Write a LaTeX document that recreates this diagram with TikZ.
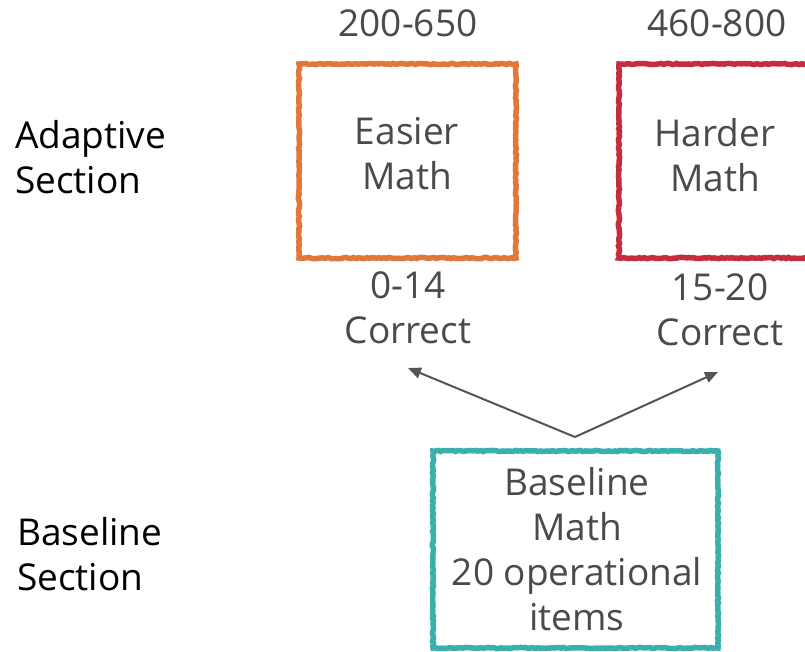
\documentclass[tikz,border=0pt]{standalone}
\usepackage{fontspec}
\setmainfont{Open Sans}
\usetikzlibrary{arrows.meta,decorations.pathmorphing}

\definecolor{easyorange}{HTML}{E2773A}
\definecolor{hardred}{HTML}{C42C3F}
\definecolor{baseteal}{HTML}{3AB0AC}
\definecolor{labelgrey}{HTML}{4A4A4A}
\definecolor{arrowgrey}{HTML}{555555}

\tikzset{
  sketchbox/.style={draw=#1, line width=5.5pt, inner sep=0pt, outer sep=0pt,
    decorate, decoration={random steps, segment length=2.5pt, amplitude=0.6pt}},
  bigtext/.style={font=\fontsize{37pt}{45pt}\selectfont, text=labelgrey,
    align=center, anchor=base, inner sep=0pt},
  sidetext/.style={font=\fontsize{37pt}{45pt}\selectfont, text=black,
    align=left, anchor=base west, inner sep=0pt},
  flow/.style={draw=arrowgrey, line width=2pt, -{Triangle[length=13pt,width=11pt]}},
}

\begin{document}
\begin{tikzpicture}[x=1pt,y=-1pt]
  \clip (0,0) rectangle (805,652);
  \fill[white] (0,0) rectangle (805,652);

  % section labels on the left (anchored at the baseline of the last line)
  \node[sidetext] (adaptive) at (15,194) {Adaptive\\Section};
  \node[sidetext] (baseline) at (17,590) {Baseline\\Section};

  % boxes
  \node[sketchbox=easyorange, minimum width=217pt, minimum height=194pt] (easy) at (407.5,161) {};
  \node[sketchbox=hardred, minimum width=220pt, minimum height=194pt] (hard) at (729,161) {};
  \node[sketchbox=baseteal, minimum width=285pt, minimum height=197pt] (base) at (575.5,549.5) {};

  % score ranges above the boxes
  \node[bigtext] (easyrange) at (408,37) {200-650};
  \node[bigtext] (hardrange) at (717,37) {460-800};

  % box contents
  \node[bigtext] (easytext) at (407,190) {Easier\\Math};
  \node[bigtext] (hardtext) at (715,192) {Harder\\Math};
  \node[bigtext] (basetext) at (577,630) {Baseline\\Math\\20 operational\\items};

  % routing thresholds
  \node[bigtext] (lowscore) at (408,343) {0-14\\Correct};
  \node[bigtext] (highscore) at (720,345) {15-20\\Correct};

  % routing arrows
  \coordinate (fork) at (575,437);
  \coordinate (lowtip) at (408,368);
  \coordinate (hightip) at (718,372);
  \draw[flow] (fork) -- (lowtip);
  \draw[flow] (fork) -- (hightip);
\end{tikzpicture}
\end{document}
